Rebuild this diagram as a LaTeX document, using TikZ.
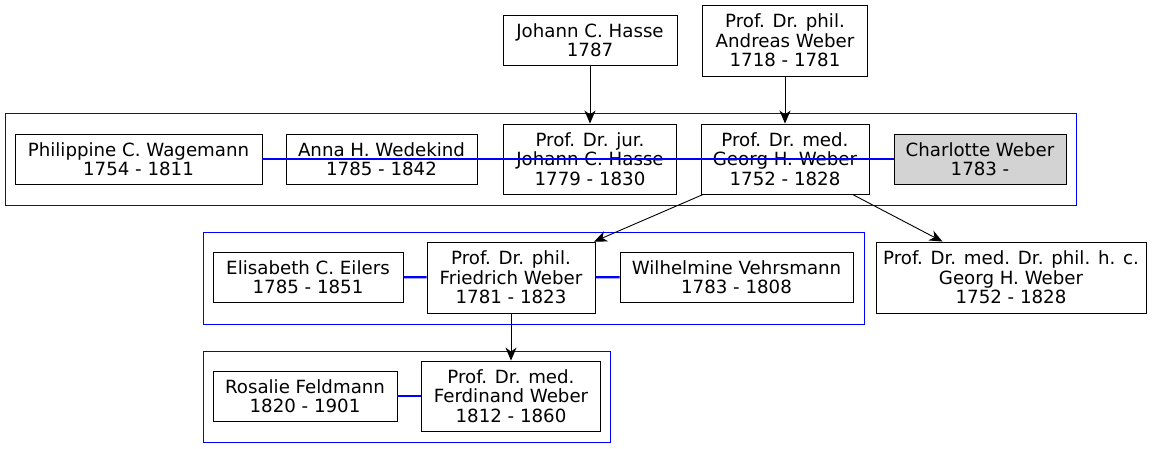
\documentclass[tikz,border=0pt]{standalone}
\usepackage{fontspec}
\setmainfont{DejaVu Sans}
\usepackage{xcolor}
\usepackage{tikz}
\usetikzlibrary{arrows.meta}
\definecolor{AzulPareja}{HTML}{0000FF}
\definecolor{GrisVivo}{HTML}{D3D3D3}

\tikzset{
  person/.style = {draw, line width = 0.9pt, align = center, inner sep = 0pt,
    font = \fontsize{18.2}{19.3}\selectfont},
  family/.style = {draw = AzulPareja, line width = 0.9pt},
  couple/.style = {draw = AzulPareja, line width = 2.2pt},
  child/.style = {-{Stealth[length = 13pt, width = 11pt, inset = 4pt]}, line width = 0.9pt}
}

\begin{document}
\begin{tikzpicture}[x = 1pt, y = -1pt]
  \useasboundingbox (0,0) rectangle (1153,448);

  % clusters
  \draw[family] (5,113) rectangle (1076,205);
  \draw[family] (203,232) rectangle (864,324);
  \draw[family] (203,351) rectangle (610,442);

  \node[person, minimum width = 174pt, minimum height = 50pt] (hasseSr) at (590,40)
    {Johann C. Hasse\\1787};
  \node[person, minimum width = 165pt, minimum height = 71pt] (andreas) at (785,40.5)
    {Prof. Dr. phil.\\Andreas Weber\\1718 - 1781};

  \node[person, minimum width = 247pt, minimum height = 50pt] (philippine) at (138.5,159)
    {Philippine C. Wagemann\\1754 - 1811};
  \node[person, minimum width = 191pt, minimum height = 50pt] (anna) at (381.5,159)
    {Anna H. Wedekind\\1785 - 1842};
  \node[person, minimum width = 173pt, minimum height = 70pt] (hasse) at (590,159)
    {Prof. Dr. jur.\\Johann C. Hasse\\1779 - 1830};
  \node[person, minimum width = 168pt, minimum height = 70pt] (georg) at (785,159)
    {Prof. Dr. med.\\Georg H. Weber\\1752 - 1828};
  \node[person, fill = GrisVivo, minimum width = 172pt, minimum height = 50pt] (charlotte) at (980,159)
    {Charlotte Weber\\1783 -};

  \node[person, minimum width = 190pt, minimum height = 50pt] (eilers) at (308,277)
    {Elisabeth C. Eilers\\1785 - 1851};
  \node[person, minimum width = 168pt, minimum height = 71pt] (friedrich) at (511,277.5)
    {Prof. Dr. phil.\\Friedrich Weber\\1781 - 1823};
  \node[person, minimum width = 233pt, minimum height = 50pt] (wilhelmine) at (736.5,277)
    {Wilhelmine Vehrsmann\\1783 - 1808};
  \node[person, minimum width = 270pt, minimum height = 71pt] (georgHc) at (1011,277.5)
    {Prof. Dr. med. Dr. phil. h. c.\\Georg H. Weber\\1752 - 1828};

  \node[person, minimum width = 184pt, minimum height = 50pt] (rosalie) at (305,396)
    {Rosalie Feldmann\\1820 - 1901};
  \node[person, minimum width = 179pt, minimum height = 70pt] (ferdinand) at (511,396)
    {Prof. Dr. med.\\Ferdinand Weber\\1812 - 1860};

  % marriages
  \draw[couple] (philippine.east) -- (charlotte.west);
  \draw[couple] (eilers) -- (friedrich);
  \draw[couple] (friedrich) -- (wilhelmine);
  \draw[couple] (rosalie) -- (ferdinand);

  % descent
  \draw[child] (hasseSr) -- (hasse);
  \draw[child] (andreas) -- (georg);
  \draw[child] (georg) -- (friedrich);
  \draw[child] (georg) -- (georgHc);
  \draw[child] (friedrich) -- (ferdinand);
\end{tikzpicture}
\end{document}
